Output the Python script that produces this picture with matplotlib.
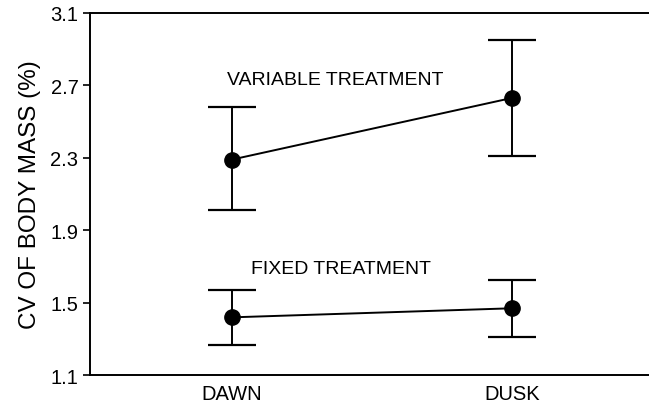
import matplotlib.pyplot as plt

plt.rcParams['font.family'] = ['Liberation Sans', 'DejaVu Sans']

times = ['DAWN', 'DUSK']
variable_mean = [2.29, 2.63]
variable_low = [2.01, 2.31]
variable_high = [2.58, 2.95]
fixed_mean = [1.42, 1.47]
fixed_low = [1.27, 1.31]
fixed_high = [1.57, 1.625]
yticks = [1.1, 1.5, 1.9, 2.3, 2.7, 3.1]

fig = plt.figure(figsize=(6.49, 4.06), dpi=100)
ax = fig.add_axes([0.139, 0.073, 0.861, 0.893])

x = list(range(len(times)))
for mean, low, high in [(variable_mean, variable_low, variable_high),
                        (fixed_mean, fixed_low, fixed_high)]:
    err = [[m - l for m, l in zip(mean, low)], [h - m for m, h in zip(mean, high)]]
    ax.errorbar(x, mean, yerr=err, fmt='-o', color='black', linewidth=1.4,
                markersize=11, elinewidth=1.4, capsize=17, capthick=1.6)

ax.text(0.37, 2.73, 'VARIABLE TREATMENT', ha='center', va='center', fontsize=14)
ax.text(0.39, 1.69, 'FIXED TREATMENT', ha='center', va='center', fontsize=14)

ax.set_xlim(-0.505, 1.49)
ax.set_ylim(1.1, 3.1)
ax.set_yticks(yticks)
ax.set_yticklabels([f'{v:.1f}' for v in yticks], fontsize=14.5)
ax.set_xticks(x)
ax.set_xticklabels(times, fontsize=14.5)
ax.tick_params(axis='x', length=0, pad=6)
ax.tick_params(axis='y', direction='out', length=5, width=1.2)
ax.set_ylabel('CV OF BODY MASS (%)', fontsize=17.5, labelpad=7)
ax.spines['right'].set_visible(False)
for s in ['left', 'top', 'bottom']:
    ax.spines[s].set_linewidth(1.4)

plt.savefig('out.png', dpi=100)
